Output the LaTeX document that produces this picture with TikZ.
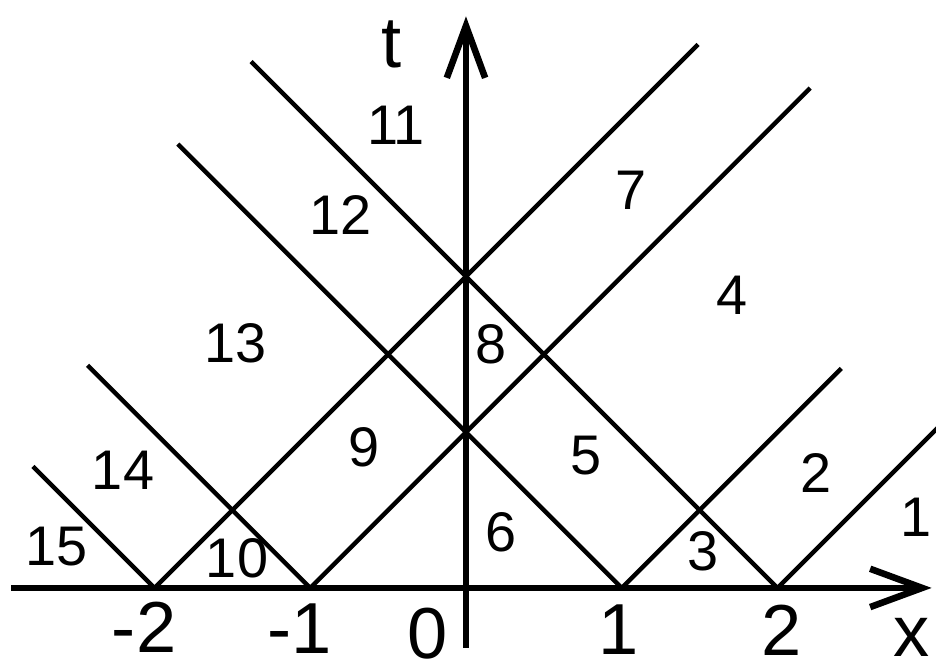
\documentclass[tikz,border=0pt]{standalone}
\usepackage{fontspec}
\setmainfont{Liberation Sans}
\usetikzlibrary{arrows.meta}
\begin{document}
\begin{tikzpicture}[x=1cm,y=1cm,
  zona/.style={font=\fontsize{10.2}{12}\selectfont, inner sep=0pt},
  tacca/.style={font=\fontsize{13.2}{16}\selectfont, inner sep=0pt},
  retta/.style={line width=0.8pt},
  asse/.style={line width=1.2pt, -{Straight Barb[length=9.5pt,width=7pt]}}]
  \useasboundingbox (-2.992,-0.514) rectangle (3.018,3.775);
  \clip (-2.992,-0.514) rectangle (3.018,3.775);
  % rette: verso sinistra e verso destra
  \foreach \a/\l in {-2/0.78, -1/1.43, 1/2.85, 2/3.38}
    \draw[retta] (\a,0) -- ++(-\l,\l);
  \foreach \a/\l in {-2/3.49, -1/3.21, 1/1.41, 2/1.3}
    \draw[retta] (\a,0) -- ++(\l,\l);
  % assi
  \coordinate (xs) at (-2.92,0);
  \coordinate (xe) at (2.99,0);
  \coordinate (ts) at (0,-0.385);
  \coordinate (te) at (0,3.67);
  \draw[asse] (xs) -- (xe);
  \draw[asse] (ts) -- (te);
  \node[tacca] (lx) at (2.86,-0.32) {x};
  \node[tacca] (lt) at (-0.475,3.49) {t};
  % tacche
  \foreach \i/\x/\y/\s in {1/-2.067/-0.25/-2, 2/-1.066/-0.26/-1,
                          3/-0.244/-0.295/0, 4/0.98/-0.27/1, 5/2.029/-0.275/2}
    \node[tacca] (k\i) at (\x,\y) {\s};
  % regioni
  \foreach \n/\x/\y in {1/2.89/0.456, 2/2.247/0.738, 3/1.522/0.238, 4/1.708/1.881,
                       5/0.770/0.848, 6/0.225/0.360, 7/1.059/2.555, 8/0.161/1.567,
                       9/-0.655/0.905, 10/-1.470/0.193, 11/-0.449/2.973,
                       12/-0.803/2.395, 13/-1.477/1.573, 14/-2.202/0.758,
                       15/-2.632/0.263}
    \node[zona] (r\n) at (\x,\y) {\n};
\end{tikzpicture}
\end{document}
